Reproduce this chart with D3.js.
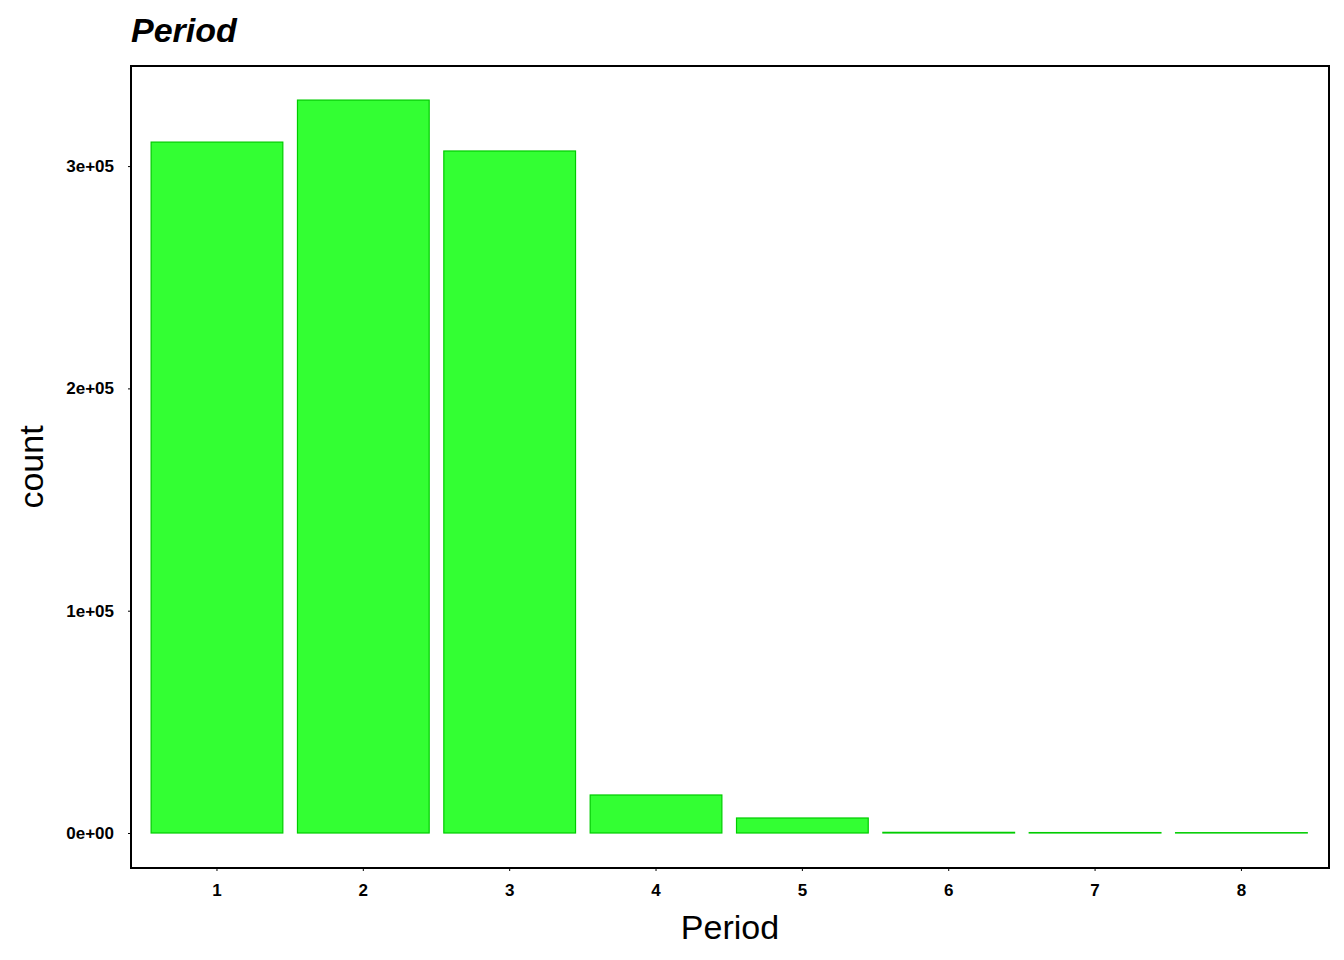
<!DOCTYPE html>
<html><head><meta charset="utf-8">
<script src="https://cdn.jsdelivr.net/npm/d3@7"></script>
<style>body{margin:0;background:#fff}</style></head>
<body><svg id="c" width="1344" height="960"></svg>
<script>
const categories = ["1","2","3","4","5","6","7","8"];
const counts = [310800, 329700, 306800, 17100, 6750, 300, 200, 150];
const yTicks = [0, 100000, 200000, 300000];
const yTickLabels = ["0e+00","1e+05","2e+05","3e+05"];

const svg = d3.select("#c");
const L=131,R=1329,T=66,B=868;
const x = d3.scaleBand().domain(categories).range([143.8,1314.6]).paddingInner(0.1).paddingOuter(0.05);
const y = d3.scaleLinear().domain([-15745,345030]).range([B,T]);

svg.selectAll("rect.bar").data(counts).enter().append("rect")
 .attr("x",(d,i)=>x(categories[i])).attr("width",x.bandwidth())
 .attr("y",d=>y(d)).attr("height",d=>y(0)-y(d))
 .attr("fill","#33ff33").attr("stroke","#00cc00").attr("stroke-width",1.2);

svg.append("rect").attr("x",L).attr("y",T).attr("width",R-L).attr("height",B-T)
 .attr("fill","none").attr("stroke","#000").attr("stroke-width",2);

const ya = svg.append("g").attr("transform",`translate(${L},0)`)
 .call(d3.axisLeft(y).tickValues(yTicks).tickFormat((d,i)=>yTickLabels[i]).tickSize(3).tickPadding(14));
const xa = svg.append("g").attr("transform",`translate(0,${B})`)
 .call(d3.axisBottom(x).tickSize(3).tickPadding(13));
[ya,xa].forEach(a=>{a.select(".domain").remove();
 a.selectAll("text").attr("font-family","Liberation Sans, Arial").attr("font-size",17).attr("font-weight","bold").attr("fill","#000");});

svg.append("text").attr("x",131).attr("y",42).text("Period")
 .attr("font-family","Liberation Sans, Arial").attr("font-size",34).attr("font-weight","bold").attr("font-style","italic");
svg.append("text").attr("x",(L+R)/2).attr("y",939).attr("text-anchor","middle").text("Period")
 .attr("font-family","Liberation Sans, Arial").attr("font-size",34);
svg.append("text").attr("transform",`translate(43,${(T+B)/2}) rotate(-90)`).attr("text-anchor","middle").text("count")
 .attr("font-family","Liberation Sans, Arial").attr("font-size",34);
</script></body></html>
